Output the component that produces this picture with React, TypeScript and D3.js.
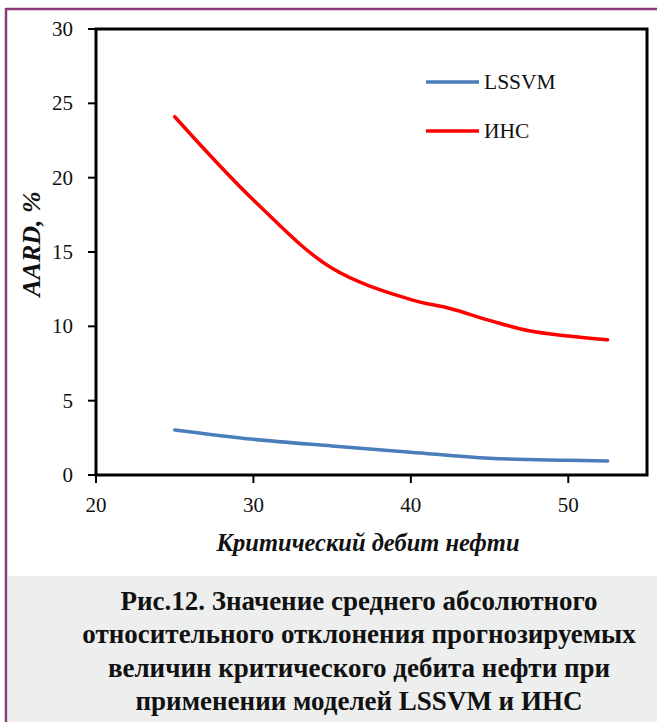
import React from "react";
import * as d3 from "d3";

// Data
const xLSSVM = [25, 30, 35, 40, 45, 50, 52.5];
const yLSSVM = [3.03, 2.4, 1.95, 1.53, 1.12, 0.99, 0.94];
const xANN = [25, 30, 35, 40, 42.5, 45, 47.5, 50, 52.5];
const yANN = [24.1, 18.5, 13.9, 11.8, 11.2, 10.4, 9.7, 9.35, 9.1];
const xTicks = [20, 30, 40, 50];
const yTicks = [0, 5, 10, 15, 20, 25, 30];
const seriesNames = ["LSSVM", "ИНС"];
const seriesColors = ["#4A7EBB", "#FF0000"];
const captionLines = [
  "Рис.12. Значение среднего абсолютного",
  "относительного отклонения прогнозируемых",
  "величин критического дебита нефти при",
  "применении моделей LSSVM и ИНС",
];

const W = 657;
const H = 722;
const margin = { top: 29, right: 10, bottom: 247, left: 96 };
const serif = { fontFamily: "'Liberation Serif', 'Times New Roman', serif" };

export default function App() {
  const x = d3.scaleLinear().domain([20, 55]).range([margin.left, W - margin.right]);
  const y = d3.scaleLinear().domain([0, 30]).range([H - margin.bottom, margin.top]);

  const makePath = (xs: number[], ys: number[]) =>
    d3
      .line<[number, number]>()
      .x((d) => x(d[0]))
      .y((d) => y(d[1]))
      .curve(d3.curveCatmullRom.alpha(0.5))(xs.map((v, i) => [v, ys[i]] as [number, number])) || "";

  const x0 = x(20);
  const x1 = x(55);
  const y0 = y(0);
  const y1 = y(30);

  return (
    <svg width={W} height={H} style={{ position: "absolute", left: 0, top: 0, background: "#fff" }}>
      {/* outer frame (purple) */}
      <line x1={6} y1={9} x2={W} y2={9} stroke="#8B3A7C" strokeWidth={2.5} />
      <line x1={6} y1={8} x2={6} y2={H} stroke="#8B3A7C" strokeWidth={2.5} />

      {/* caption block */}
      <rect x={8} y={576} width={W - 8} height={H - 576} fill="#EDEEEE" />
      {captionLines.map((t, i) => (
        <text
          key={i}
          x={359}
          y={610 + i * 33.4}
          textAnchor="middle"
          fontSize={27}
          fontWeight="bold"
          fill="#111"
          style={serif}
        >
          {t}
        </text>
      ))}

      {/* plot frame */}
      <rect x={x0} y={y1} width={x1 - x0} height={y0 - y1} fill="none" stroke="#000" strokeWidth={3} />

      {/* y ticks */}
      {yTicks.map((v) => (
        <g key={`y${v}`}>
          <line x1={x0 - 8} x2={x0} y1={y(v)} y2={y(v)} stroke="#000" strokeWidth={2} />
          <text x={73} y={y(v) + 7} textAnchor="end" fontSize={21} fill="#111" style={serif}>
            {v}
          </text>
        </g>
      ))}

      {/* x ticks */}
      {xTicks.map((v) => (
        <g key={`x${v}`}>
          <line x1={x(v)} x2={x(v)} y1={y0} y2={y0 + 8} stroke="#000" strokeWidth={2} />
          <text x={x(v)} y={512} textAnchor="middle" fontSize={21} fill="#111" style={serif}>
            {v}
          </text>
        </g>
      ))}

      {/* axis titles */}
      <text
        transform={`translate(40,244) rotate(-90)`}
        textAnchor="middle"
        fontSize={26}
        fontStyle="italic"
        fontWeight="bold"
        fill="#111"
        style={serif}
      >
        AARD, %
      </text>
      <text
        x={368}
        y={551}
        textAnchor="middle"
        fontSize={24.5}
        fontStyle="italic"
        fontWeight="bold"
        fill="#111"
        style={serif}
      >
        Критический дебит нефти
      </text>

      {/* series */}
      <path d={makePath(xLSSVM, yLSSVM)} fill="none" stroke={seriesColors[0]} strokeWidth={3.5} strokeLinecap="round" />
      <path d={makePath(xANN, yANN)} fill="none" stroke={seriesColors[1]} strokeWidth={3.5} strokeLinecap="round" />

      {/* legend */}
      {seriesNames.map((n, i) => (
        <g key={n}>
          <line x1={426} x2={479} y1={82 + i * 49} y2={82 + i * 49} stroke={seriesColors[i]} strokeWidth={3.5} />
          <text x={484} y={89 + i * 49} fontSize={21.5} fill="#111" style={serif}>
            {n}
          </text>
        </g>
      ))}
    </svg>
  );
}
